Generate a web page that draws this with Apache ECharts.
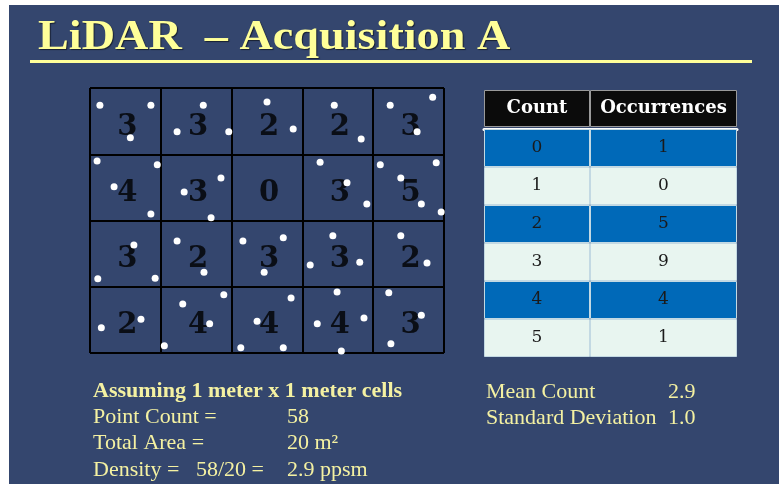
<!DOCTYPE html>
<html>
<head>
<meta charset="utf-8">
<script src="https://cdn.jsdelivr.net/npm/echarts@6/dist/echarts.min.js"></script>
<style>
  * { margin: 0; padding: 0; }
  body { background: #fff; }
  #chart-container { width: 779px; height: 484px; }
</style>
</head>
<body>
<div id="chart-container"></div>
<script>
  // points per 1 m cell, rows top to bottom
  var cellCounts = [
    [3, 3, 2, 2, 3],
    [4, 3, 0, 3, 5],
    [3, 2, 3, 3, 2],
    [2, 4, 4, 4, 3]
  ]
  // lidar returns, [x m, y m from top edge]
  var lidarPoints = [
    [0.14, 0.26], [0.86, 0.26], [0.57, 0.75],
    [1.6, 0.26], [1.23, 0.66], [1.96, 0.66],
    [2.5, 0.21], [2.87, 0.62],
    [3.45, 0.26], [3.83, 0.77],
    [4.24, 0.26], [4.84, 0.14], [4.62, 0.66],
    [0.1, 1.1], [0.95, 1.16], [0.34, 1.49], [0.86, 1.9],
    [1.85, 1.36], [1.33, 1.57], [1.71, 1.96],
    [3.25, 1.12], [3.63, 1.43], [3.91, 1.75],
    [4.1, 1.16], [4.89, 1.13], [4.39, 1.36], [4.68, 1.75], [4.96, 1.87],
    [0.62, 2.37], [0.11, 2.88], [0.92, 2.87],
    [1.23, 2.31], [1.61, 2.78],
    [2.16, 2.31], [2.73, 2.26], [2.46, 2.78],
    [3.43, 2.23], [3.11, 2.67], [3.81, 2.63],
    [4.39, 2.23], [4.76, 2.64],
    [0.16, 3.62], [0.72, 3.49],
    [1.31, 3.26], [1.89, 3.12], [1.69, 3.56], [1.05, 3.89],
    [2.36, 3.52], [2.13, 3.92], [2.73, 3.92], [2.84, 3.17],
    [3.49, 3.08], [3.21, 3.56], [3.87, 3.47], [3.55, 3.97],
    [4.22, 3.09], [4.68, 3.43], [4.25, 3.86]
  ]
  var countValues = ['0', '1', '2', '3', '4', '5']
  var occurrences = [1, 0, 5, 9, 4, 1]
  var tableHeaders = ['Count', 'Occurrences']

  var titleText = 'LiDAR  \u2013 Acquisition A'
  var cellNote = 'Assuming 1 meter x 1 meter cells'
  var leftLabels = ['Point Count =', 'Total Area =', 'Density =']
  var leftValues = ['58', '20 m\u00b2', '2.9 ppsm']
  var densityCalc = '58/20 ='
  var statLabels = ['Mean Count', 'Standard Deviation']
  var statValues = ['2.9', '1.0']

  var navy = '#34466e'
  var yellow = '#f4f1a2'
  var cellLabels = []
  cellCounts.forEach(function (row, r) {
    row.forEach(function (c, col) {
      cellLabels.push([col + 0.5, r + 0.5, c])
    })
  })

  var chartDom = document.getElementById('chart-container')
  var myChart = echarts.init(chartDom, null, { renderer: 'canvas' })

  var txt = function (x, y, s, font, fill) {
    return {
      type: 'text', x: x, y: y, z: 5,
      style: { text: s, font: font, fill: fill || yellow, verticalAlign: 'middle' }
    }
  }
  var reg = '22px "Liberation Serif"'
  var graphics = [
    { type: 'rect', z: -10, shape: { x: 9, y: 5, width: 770, height: 479 }, style: { fill: navy } },
    {
      type: 'text', x: 38, y: 38, z: 5, scaleX: 1.1,
      style: {
        text: titleText, font: 'bold 42px "Liberation Serif"', fill: '#ffff99', verticalAlign: 'middle',
        textShadowColor: 'rgba(0,0,0,0.55)', textShadowOffsetX: 1, textShadowOffsetY: 1, textShadowBlur: 1
      }
    },
    { type: 'rect', z: 5, shape: { x: 30, y: 60, width: 722, height: 3 }, style: { fill: '#ffff99' } },
    txt(93, 391, cellNote, 'bold 22px "Liberation Serif"')
  ]
  leftLabels.forEach(function (l, i) {
    graphics.push(txt(93, 417 + i * 26.5, l, reg))
    graphics.push(txt(287, 417 + i * 26.5, leftValues[i], reg))
  })
  graphics.push(txt(196, 470, densityCalc, reg))
  statLabels.forEach(function (l, i) {
    graphics.push(txt(486, 392 + i * 26, l, reg))
    graphics.push(txt(668, 392 + i * 26, statValues[i], reg))
  })

  var hiddenX = function (gi, pos, line) {
    return {
      type: 'value', gridIndex: gi, min: 0, max: 1, position: pos || 'bottom',
      axisLine: line ? { show: true, lineStyle: { color: '#fff', width: 3 } } : { show: false },
      axisTick: { show: false }, axisLabel: { show: false }, splitLine: { show: false }
    }
  }
  var catY = function (gi, data) {
    return {
      type: 'category', gridIndex: gi, data: data, inverse: true,
      axisLine: { show: false }, axisTick: { show: false }, axisLabel: { show: false }
    }
  }
  var tableBar = function (gi, values, labels, header) {
    return {
      type: 'bar', xAxisIndex: gi, yAxisIndex: gi, barCategoryGap: '0%', silent: true,
      data: values.map(function (v, i) {
        return {
          value: 1,
          itemStyle: {
            color: header ? '#0b0b0b' : (i % 2 === 0 ? '#0069b8' : '#e8f5f0'),
            borderColor: header ? '#9a9a9a' : '#c3d9e3', borderWidth: 1
          },
          label: { color: header ? '#fff' : '#1a1a1a' }
        }
      }),
      label: {
        show: true, position: 'inside',
        fontFamily: 'DejaVu Serif', fontSize: header ? 18 : 17, fontWeight: header ? 'bold' : 'normal',
        formatter: function (p) { return labels[p.dataIndex] }
      }
    }
  }

  var option = {
    backgroundColor: '#fff',
    animation: false,
    graphic: graphics,
    grid: [
      { left: 90, top: 88, width: 354, height: 265 },
      { left: 484, top: 90, width: 106, height: 37 },
      { left: 590, top: 90, width: 147, height: 37 },
      { left: 484, top: 129, width: 106, height: 228 },
      { left: 590, top: 129, width: 147, height: 228 }
    ],
    xAxis: [
      {
        type: 'value', gridIndex: 0, min: 0, max: 5, interval: 1,
        axisLine: { show: false }, axisTick: { show: false }, axisLabel: { show: false },
        splitLine: { show: true, showMinLine: true, showMaxLine: true, lineStyle: { color: '#000', width: 2 } }
      },
      hiddenX(1), hiddenX(2), hiddenX(3, 'top', true), hiddenX(4, 'top', true)
    ],
    yAxis: [
      {
        type: 'value', gridIndex: 0, min: 0, max: 4, interval: 1, inverse: true,
        axisLine: { show: false }, axisTick: { show: false }, axisLabel: { show: false },
        splitLine: { show: true, showMinLine: true, showMaxLine: true, lineStyle: { color: '#000', width: 2 } }
      },
      catY(1, [tableHeaders[0]]), catY(2, [tableHeaders[1]]),
      catY(3, countValues), catY(4, countValues)
    ],
    series: [
      {
        type: 'scatter', xAxisIndex: 0, yAxisIndex: 0, data: cellLabels, symbolSize: 0, silent: true, z: 3,
        label: {
          show: true, position: 'inside', offset: [2, 6],
          fontFamily: 'DejaVu Serif', fontWeight: 'bold', fontSize: 29, color: '#000',
          formatter: function (p) { return String(p.value[2]) }
        }
      },
      {
        type: 'scatter', xAxisIndex: 0, yAxisIndex: 0, data: lidarPoints, symbolSize: 7, silent: true, z: 4,
        itemStyle: { color: '#fff', opacity: 1 }
      },
      tableBar(1, [0], [tableHeaders[0]], true),
      tableBar(2, [0], [tableHeaders[1]], true),
      tableBar(3, countValues, countValues, false),
      tableBar(4, occurrences, occurrences.map(String), false)
    ]
  }
  myChart.setOption(option)
  window.addEventListener('resize', myChart.resize)
</script>
</body>
</html>
